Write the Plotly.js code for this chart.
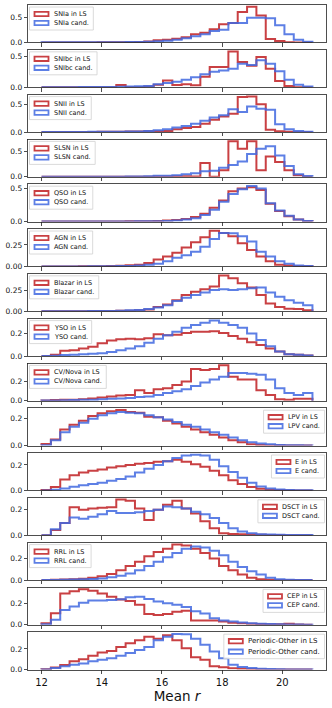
<!DOCTYPE html>
<html>
<head>
<meta charset="utf-8">
<script src="https://cdn.plot.ly/plotly-3.0.1.min.js"></script>
<style>
  html, body { margin: 0; padding: 0; background: #fff; }
  #chart { width: 332px; height: 708px; }
</style>
</head>
<body>
<div id="chart"></div>
<script>
// 29 equal-width bins of mean r between 12 and 21
var binLo = 12, binHi = 21, nBins = 29;

var classes = ['SNIa', 'SNIbc', 'SNII', 'SLSN', 'QSO', 'AGN', 'Blazar', 'YSO',
               'CV/Nova', 'LPV', 'E', 'DSCT', 'RRL', 'CEP', 'Periodic-Other'];

// normalised counts per bin
var SNIa_LS   = [0,0,0,0,0,0,0.002,0.002,0.003,0.005,0.01,0.02,0.045,0.05,0.07,0.1,0.16,0.19,0.26,0.36,0.385,0.6,0.705,0.53,0.065,0.027,0.005,0,0];
var SNIa_cand = [0.001,0.001,0.001,0.002,0.002,0.003,0.003,0.004,0.005,0.007,0.01,0.015,0.025,0.035,0.05,0.08,0.12,0.16,0.225,0.25,0.385,0.385,0.49,0.49,0.48,0.34,0.16,0.05,0.015];

var SNIbc_LS   = [0,0,0,0,0,0,0,0,0.035,0,0,0.01,0.04,0.11,0.035,0.05,0.03,0.17,0.33,0.33,0.58,0.41,0.35,0.49,0.3,0.1,0.02,0,0];
var SNIbc_cand = [0,0,0,0,0.003,0.003,0.005,0.005,0.008,0.01,0.015,0.02,0.05,0.07,0.09,0.12,0.16,0.21,0.25,0.27,0.3,0.38,0.36,0.44,0.38,0.26,0.12,0.04,0.01];

var SNII_LS   = [0,0,0,0,0,0.002,0.003,0.005,0.006,0.008,0.01,0.012,0.015,0.02,0.05,0.07,0.09,0.15,0.22,0.28,0.33,0.63,0.64,0.5,0.04,0.015,0.003,0,0];
var SNII_cand = [0,0,0,0,0.002,0.003,0.004,0.005,0.006,0.008,0.01,0.02,0.03,0.05,0.08,0.11,0.15,0.2,0.26,0.3,0.41,0.36,0.46,0.42,0.4,0.14,0.05,0.02,0.005];

var SLSN_LS   = [0,0,0,0,0,0,0,0,0,0,0,0,0.005,0.005,0.01,0.01,0.005,0.27,0,0.13,0.7,0.55,0.7,0.13,0.4,0.29,0.13,0.03,0];
var SLSN_cand = [0,0,0,0,0,0,0,0,0.003,0.005,0.008,0.01,0.02,0.02,0.03,0.05,0.07,0.11,0.12,0.18,0.23,0.3,0.45,0.55,0.6,0.42,0.21,0.05,0.015];

var QSO_LS   = [0,0,0,0,0.001,0.001,0.002,0.002,0.003,0.004,0.005,0.007,0.01,0.015,0.025,0.04,0.07,0.12,0.21,0.32,0.46,0.5,0.52,0.48,0.27,0.16,0.08,0.03,0.01];
var QSO_cand = [0,0,0,0,0,0.001,0.001,0.002,0.002,0.003,0.004,0.005,0.007,0.01,0.018,0.03,0.05,0.1,0.18,0.3,0.42,0.49,0.54,0.5,0.28,0.17,0.09,0.03,0.01];

var AGN_LS   = [0,0,0,0,0.001,0.002,0.003,0.005,0.008,0.012,0.02,0.04,0.08,0.115,0.16,0.22,0.28,0.34,0.415,0.39,0.35,0.27,0.19,0.115,0.06,0.02,0.01,0.003,0.001];
var AGN_cand = [0,0,0,0,0,0.001,0.002,0.003,0.004,0.006,0.01,0.02,0.03,0.06,0.1,0.13,0.17,0.23,0.32,0.39,0.385,0.35,0.29,0.17,0.115,0.06,0.03,0.01,0.005];

var Blazar_LS   = [0,0,0,0,0,0.001,0.002,0.003,0.004,0.005,0.01,0.02,0.05,0.08,0.13,0.19,0.23,0.26,0.29,0.42,0.39,0.33,0.28,0.19,0.09,0.05,0.03,0.025,0.01];
var Blazar_cand = [0,0,0,0,0,0.001,0.002,0.003,0.005,0.01,0.015,0.025,0.045,0.07,0.12,0.16,0.19,0.22,0.25,0.26,0.25,0.26,0.27,0.28,0.22,0.17,0.13,0.1,0.07];

var YSO_LS   = [0,0.01,0.045,0.05,0.065,0.08,0.11,0.135,0.145,0.15,0.145,0.155,0.19,0.18,0.185,0.2,0.21,0.21,0.215,0.2,0.175,0.15,0.12,0.095,0.065,0.04,0.015,0.01,0.005];
var YSO_cand = [0,0.003,0.008,0.01,0.015,0.02,0.025,0.035,0.05,0.065,0.085,0.115,0.15,0.18,0.21,0.245,0.27,0.29,0.31,0.29,0.27,0.245,0.195,0.14,0.085,0.04,0.015,0.01,0.005];

var CVNova_LS   = [0.003,0.008,0.01,0.012,0.015,0.025,0.035,0.045,0.055,0.06,0.11,0.08,0.12,0.13,0.165,0.2,0.33,0.32,0.33,0.37,0.25,0.22,0.22,0.11,0.06,0.015,0.012,0.02,0.02];
var CVNova_cand = [0.002,0.003,0.005,0.008,0.01,0.012,0.015,0.02,0.025,0.03,0.04,0.045,0.06,0.08,0.1,0.12,0.155,0.19,0.22,0.25,0.29,0.29,0.28,0.27,0.22,0.13,0.08,0.06,0.08];

var LPV_LS   = [0.012,0.045,0.12,0.155,0.185,0.22,0.24,0.255,0.265,0.25,0.245,0.215,0.21,0.185,0.165,0.14,0.12,0.1,0.08,0.06,0.04,0.025,0.01,0.005,0.003,0.002,0.001,0,0];
var LPV_cand = [0.003,0.04,0.1,0.14,0.17,0.2,0.225,0.24,0.25,0.245,0.24,0.225,0.21,0.195,0.175,0.155,0.14,0.12,0.1,0.08,0.06,0.04,0.025,0.015,0.01,0.005,0.003,0.002,0.001];

var E_LS   = [0.003,0.027,0.085,0.12,0.14,0.155,0.165,0.18,0.19,0.2,0.21,0.215,0.225,0.23,0.24,0.225,0.205,0.185,0.155,0.12,0.08,0.05,0.027,0.013,0.006,0.003,0.001,0,0];
var E_cand = [0,0.005,0.015,0.028,0.04,0.05,0.06,0.075,0.09,0.11,0.14,0.17,0.2,0.23,0.255,0.275,0.28,0.275,0.24,0.19,0.145,0.1,0.06,0.03,0.015,0.008,0.004,0.002,0.001];

var DSCT_LS   = [0,0.04,0.095,0.22,0.2,0.21,0.215,0.22,0.28,0.27,0.21,0.12,0.2,0.24,0.27,0.21,0.17,0.11,0.055,0.015,0.01,0.008,0.005,0.003,0.002,0.001,0,0,0];
var DSCT_cand = [0,0.047,0.095,0.14,0.13,0.145,0.165,0.19,0.175,0.175,0.18,0.19,0.2,0.225,0.22,0.21,0.185,0.165,0.135,0.095,0.055,0.03,0.015,0.008,0.005,0.003,0.002,0.001,0.001];

var RRL_LS   = [0,0.002,0.004,0.008,0.012,0.02,0.035,0.055,0.09,0.13,0.17,0.22,0.26,0.29,0.33,0.32,0.29,0.25,0.2,0.13,0.09,0.05,0.02,0.007,0.003,0,0,0,0];
var RRL_cand = [0,0.001,0.002,0.004,0.007,0.01,0.015,0.025,0.04,0.06,0.09,0.13,0.17,0.21,0.25,0.29,0.31,0.3,0.27,0.23,0.17,0.12,0.08,0.05,0.02,0.008,0.003,0.001,0];

var CEP_LS   = [0.015,0.108,0.29,0.31,0.33,0.315,0.29,0.26,0.235,0.22,0.185,0.1,0.09,0.1,0.12,0.13,0.04,0.04,0.04,0.03,0.02,0.015,0.01,0.008,0.005,0.004,0.01,0.003,0];
var CEP_cand = [0.005,0.046,0.138,0.17,0.205,0.225,0.225,0.23,0.237,0.255,0.26,0.24,0.215,0.2,0.185,0.165,0.125,0.105,0.06,0.04,0.03,0.022,0.015,0.01,0.007,0.005,0.003,0.002,0.001];

var PerOther_LS   = [0.003,0.02,0.045,0.08,0.1,0.133,0.165,0.18,0.22,0.255,0.285,0.317,0.3,0.333,0.285,0.206,0.12,0.095,0.032,0.022,0.012,0.008,0.005,0.003,0.002,0.001,0,0,0];
var PerOther_cand = [0.002,0.015,0.032,0.048,0.06,0.08,0.095,0.11,0.133,0.16,0.19,0.22,0.285,0.317,0.345,0.343,0.3,0.24,0.175,0.11,0.048,0.025,0.015,0.008,0.005,0.003,0.002,0.001,0.001];

var inLS = [SNIa_LS, SNIbc_LS, SNII_LS, SLSN_LS, QSO_LS, AGN_LS, Blazar_LS, YSO_LS,
            CVNova_LS, LPV_LS, E_LS, DSCT_LS, RRL_LS, CEP_LS, PerOther_LS];
var cand = [SNIa_cand, SNIbc_cand, SNII_cand, SLSN_cand, QSO_cand, AGN_cand, Blazar_cand, YSO_cand,
            CVNova_cand, LPV_cand, E_cand, DSCT_cand, RRL_cand, CEP_cand, PerOther_cand];
var legendSide = ['left','left','left','left','left','left','left','left',
                  'left','right','right','right','left','right','right'];

var redCol = 'rgba(192,30,34,0.85)';
var blueCol = 'rgba(65,105,225,0.85)';
var FONT = 'DejaVu Sans';

var edges = [];
for (var i = 0; i <= nBins; i++) edges.push(binLo + i * (binHi - binLo) / nBins);

// outline of a step histogram (like histtype='step')
function stepX() {
    return [edges[0]].concat(edges.slice(0, nBins)).concat([edges[nBins]]);
}
function stepY(vals) {
    return [0].concat(vals).concat([0]);
}

var canvas = document.createElement('canvas');
var ctx = canvas.getContext('2d');
function textWidth(s, size) {
    ctx.font = size + 'px "' + FONT + '"';
    return ctx.measureText(s).width;
}

var plotH = 37.4 / 665, gap = 7.4 / 665;
var data = [], shapes = [], annotations = [];
var layout = {
    width: 332, height: 708,
    margin: {l: 28, r: 6, t: 5, b: 38},
    paper_bgcolor: '#fff', plot_bgcolor: '#fff',
    font: {family: FONT, color: '#222'},
    showlegend: false
};

classes.forEach(function(name, k) {
    var n = k + 1;
    var xa = n === 1 ? 'x' : 'x' + n;
    var ya = n === 1 ? 'y' : 'y' + n;
    var xKey = n === 1 ? 'xaxis' : 'xaxis' + n;
    var yKey = n === 1 ? 'yaxis' : 'yaxis' + n;

    data.push({x: stepX(), y: stepY(inLS[k]), xaxis: xa, yaxis: ya, type: 'scatter', mode: 'lines',
               line: {shape: 'hv', color: redCol, width: 2}, name: name + ' in LS', hoverinfo: 'skip'});
    data.push({x: stepX(), y: stepY(cand[k]), xaxis: xa, yaxis: ya, type: 'scatter', mode: 'lines',
               line: {shape: 'hv', color: blueCol, width: 2}, name: name + ' cand.', hoverinfo: 'skip'});

    var top = 1 - k * (plotH + gap);
    var ymax = Math.max(Math.max.apply(null, inLS[k]), Math.max.apply(null, cand[k])) * 1.05;
    var dtick = ymax > 0.5 ? 0.5 : (ymax > 0.4 ? 0.25 : 0.2);

    layout[xKey] = {
        domain: [0, 1], anchor: ya, range: [11.55, 21.45],
        tickvals: [12, 14, 16, 18, 20], showticklabels: n === 15,
        ticks: 'outside', ticklen: 3.5, tickwidth: 0.8, tickcolor: '#222',
        tickfont: {size: 10, family: FONT, color: '#111'},
        showline: true, mirror: true, linecolor: '#222', linewidth: 0.8,
        showgrid: false, zeroline: false
    };
    if (n > 1) layout[xKey].matches = 'x';
    if (n === 15) layout[xKey].title = {text: 'Mean <i>r</i>', font: {size: 13.5, family: FONT, color: '#111'}, standoff: 4};

    layout[yKey] = {
        domain: [top - plotH, top], anchor: xa, range: [0, ymax],
        dtick: dtick, tick0: 0, tickformat: dtick === 0.25 ? '.2f' : '.1f',
        ticks: 'outside', ticklen: 3.5, tickwidth: 0.8, tickcolor: '#222',
        tickfont: {size: 7.5, family: FONT, color: '#111'},
        showline: true, mirror: true, linecolor: '#222', linewidth: 0.8,
        showgrid: false, zeroline: false
    };

    // legend box drawn by hand so that its rows stay compact
    var fs = n === 15 ? 7 : 6.5;
    var rowStep = n === 15 ? 10.5 : 9;
    var labels = [name + ' in LS', name + ' cand.'];
    var tw = Math.max(textWidth(labels[0], fs), textWidth(labels[1], fs));
    var boxW = 24 + tw + 5;
    var boxH = 7 + rowStep + 7;
    var left = legendSide[k] === 'left';
    var anchorX = left ? 0 : 1;
    var boxL = left ? 1.5 : -1.5 - boxW;
    var xr = xa + ' domain', yr = ya + ' domain';

    shapes.push({type: 'rect', xref: xr, yref: yr, layer: 'above',
                 xsizemode: 'pixel', xanchor: anchorX, x0: boxL, x1: boxL + boxW,
                 ysizemode: 'pixel', yanchor: 1, y0: -2, y1: -2 - boxH,
                 fillcolor: 'rgba(255,255,255,0.85)', line: {color: '#d0d0d0', width: 0.8}});
    [redCol, blueCol].forEach(function(col, r) {
        var yc = -2 - 7 - r * rowStep;
        shapes.push({type: 'rect', xref: xr, yref: yr, layer: 'above',
                     xsizemode: 'pixel', xanchor: anchorX, x0: boxL + 5, x1: boxL + 19,
                     ysizemode: 'pixel', yanchor: 1, y0: yc - 2.2, y1: yc + 2.2,
                     fillcolor: 'rgba(255,255,255,0)', line: {color: col, width: 1.8}});
        annotations.push({xref: xr, yref: yr, x: anchorX, y: 1, xanchor: 'left', yanchor: 'middle',
                          xshift: boxL + 24, yshift: yc, text: labels[r], showarrow: false,
                          borderpad: 0, borderwidth: 0,
                          font: {size: fs, family: FONT, color: '#111'}});
    });
});

layout.shapes = shapes;
layout.annotations = annotations;

Plotly.newPlot('chart', data, layout, {displayModeBar: false, staticPlot: true});
</script>
</body>
</html>
